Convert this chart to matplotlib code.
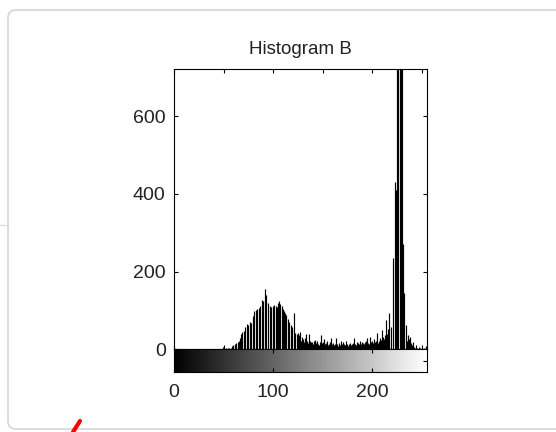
import matplotlib
matplotlib.use('Agg')
import matplotlib.pyplot as plt
from matplotlib.patches import FancyBboxPatch
from matplotlib.lines import Line2D
import numpy as np

# grey level bins and pixel counts (peak clipped at the top)
levels = list(range(256))
counts = [
    0, 0, 0, 0, 0, 0, 0, 0, 0, 0, 0, 0, 0, 0, 0, 0,
    0, 0, 0, 0, 0, 0, 0, 0, 0, 0, 0, 0, 0, 0, 0, 0,
    0, 0, 0, 0, 0, 0, 0, 0, 0, 0, 0, 0, 0, 0, 0, 0,
    0, 6, 0, 0, 2, 0, 3, 2, 0, 4, 8, 10, 0, 12, 15, 0,
    18, 22, 29, 0, 38, 44, 0, 46, 58, 0, 65, 62, 0, 70, 68, 0,
    84, 99, 0, 100, 104, 0, 107, 112, 0, 127, 124, 0, 155, 140, 0, 118,
    0, 112, 108, 0, 110, 114, 0, 112, 109, 118, 124, 115, 0, 110, 103, 98,
    92, 88, 0, 78, 70, 0, 62, 56, 0, 93, 41, 0, 38, 42, 36, 45,
    22, 30, 25, 18, 28, 39, 20, 15, 39, 22, 18, 19, 12, 20, 23, 16,
    22, 14, 10, 18, 36, 15, 18, 25, 12, 16, 20, 10, 14, 18, 28, 12,
    15, 10, 14, 28, 12, 8, 15, 10, 22, 14, 18, 12, 10, 21, 14, 8,
    12, 15, 10, 12, 16, 28, 14, 10, 18, 15, 12, 20, 14, 19, 16, 12,
    18, 14, 20, 28, 15, 12, 31, 18, 20, 15, 26, 18, 22, 41, 16, 20,
    28, 24, 49, 30, 25, 35, 75, 40, 52, 93, 0, 57, 0, 235, 0, 430,
    410, 1500, 2100, 0, 2600, 1800, 900, 270, 145, 0, 62, 20, 36, 25, 32, 15,
    10, 19, 6, 4, 10, 3, 0, 5, 2, 0, 3, 0, 2, 0, 8, 4,
]
yticks = [0, 200, 400, 600]
bar_ticks = [0, 100, 200]
title = 'Histogram B'

plt.rcParams['font.family'] = ['Liberation Sans', 'DejaVu Sans']
txtcol = '#222222'

fig = plt.figure(figsize=(5.56, 4.32), dpi=100)
fig.patch.set_facecolor('white')

# screenshot card frame
card = FancyBboxPatch((0.08, 0.03), 6.0, 4.19,
                      boxstyle='round,pad=0,rounding_size=0.08',
                      transform=fig.dpi_scale_trans, facecolor='none',
                      edgecolor='#d6d6d6', linewidth=1.2, zorder=-1)
fig.patches.append(card)
fig.lines.append(Line2D([0.0, 0.075], [2.07, 2.07], transform=fig.dpi_scale_trans,
                        color='#dcdcdc', linewidth=1.0))
fig.lines.append(Line2D([0.73, 0.80], [0.0, 0.11], transform=fig.dpi_scale_trans,
                        color='red', linewidth=3.0, solid_capstyle='round'))

# histogram (imhist style stems)
ax = fig.add_axes([0.313, 0.192, 0.455, 0.648])
ax.vlines(levels, 0, counts, colors='k', linewidth=0.85)
ax.set_xlim(0, 255)
ax.set_ylim(0, 722)
ax.set_xticks([0, 50, 100, 150, 200, 250])
ax.set_yticks(yticks)
ax.tick_params(direction='in', top=True, right=True, bottom=True, labelbottom=False,
               length=3, width=0.8, labelsize=14, labelcolor=txtcol, pad=6)
for s in ax.spines.values():
    s.set_linewidth(0.8)
ax.set_title(title, fontsize=13.5, color=txtcol, pad=11)

# grey level bar underneath
cax = fig.add_axes([0.313, 0.139, 0.455, 0.053])
grad = np.array(levels).reshape(1, -1)
cax.imshow(grad, cmap='gray', aspect='auto', extent=[0, 255, 0, 1],
           interpolation='nearest', vmin=0, vmax=255)
cax.set_xlim(0, 255)
cax.set_ylim(0, 1)
cax.set_xticks(bar_ticks)
cax.set_yticks([0.5])
cax.tick_params(direction='in', top=True, right=True, left=False, labelleft=False,
                length=3, width=0.8, labelsize=14, labelcolor=txtcol, pad=9)
for s in cax.spines.values():
    s.set_linewidth(0.8)

fig.savefig('out.png', dpi=100, facecolor='white')
